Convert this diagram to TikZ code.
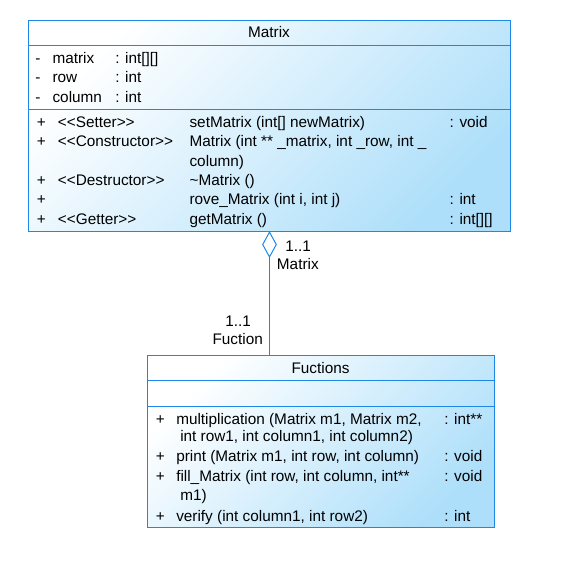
\documentclass[tikz,border=0pt]{standalone}
\usepackage{fontspec}
\setmainfont{Liberation Sans}
\usetikzlibrary{arrows.meta}
\definecolor{umlline}{HTML}{1E88E8}
\definecolor{umlfill}{HTML}{AEDFFA}
\tikzset{
  classbox/.style={draw=umlline, line width=0.75pt, top color=white, bottom color=umlfill, shading angle=45, inner sep=0pt, outer sep=0pt},
  txt/.style={anchor=base west, inner sep=0pt, font=\fontsize{11.5}{14}\selectfont},
  ttl/.style={anchor=base, inner sep=0pt, font=\fontsize{11.5}{14}\selectfont},
}
\begin{document}
\begin{tikzpicture}[x=0.75pt,y=-0.75pt]
  \useasboundingbox (0,0) rectangle (562,569);

  % class Matrix
  \node (matrix) [classbox, minimum width=361.8pt, minimum height=157.7pt] at (269.5,125.9) {};
  \draw[umlline, line width=0.75pt] (matrix.west |- 0,45) -- (matrix.east |- 0,45);
  \draw[umlline, line width=0.75pt] (matrix.west |- 0,109.3) -- (matrix.east |- 0,109.3);
  \node (mtitle) [ttl] at (269,37.7) {Matrix};

  \node (ma1) [txt] at (35,63) {-};
  \node (ma2) [txt] at (35,82.5) {-};
  \node (ma3) [txt] at (35,102) {-};
  \node (ma1n) [txt] at (52.3,63) {matrix};
  \node (ma2n) [txt] at (52.3,82.5) {row};
  \node (ma3n) [txt] at (52.3,102) {column};
  \node (ma1t) [txt] at (115,63) {: int[][]};
  \node (ma2t) [txt] at (115,82.5) {: int};
  \node (ma3t) [txt] at (115,102) {: int};

  \node (mo1) [txt] at (36.7,127) {+};
  \node (mo2) [txt] at (36.7,146.5) {+};
  \node (mo3) [txt] at (36.7,185) {+};
  \node (mo4) [txt] at (36.7,204.5) {+};
  \node (mo5) [txt] at (36.7,224) {+};
  \node (mo1s) [txt] at (57.7,127) {<{}<Setter>{}>};
  \node (mo2s) [txt] at (57.7,146.5) {<{}<Constructor>{}>};
  \node (mo3s) [txt] at (57.7,185) {<{}<Destructor>{}>};
  \node (mo5s) [txt] at (57.7,224) {<{}<Getter>{}>};
  \node (mo1n) [txt] at (189.3,127) {setMatrix (int[] newMatrix)};
  \node (mo2n) [txt] at (189.3,146.5) {Matrix (int ** \_matrix, int \_row, int \_};
  \node (mo2m) [txt] at (189.3,166) {column)};
  \node (mo3n) [txt] at (189.3,185) {\textasciitilde Matrix ()};
  \node (mo4n) [txt] at (189.3,204.5) {rove\_Matrix (int i, int j)};
  \node (mo5n) [txt] at (189.3,224) {getMatrix ()};
  \node (mo1t) [txt] at (449.3,127) {: void};
  \node (mo4t) [txt] at (449.3,204.5) {: int};
  \node (mo5t) [txt] at (449.3,224) {: int[][]};

  % class Fuctions
  \node (fuctions) [classbox, minimum width=260pt, minimum height=129.5pt] at (320.7,441.4) {};
  \draw[umlline, line width=0.75pt] (fuctions.west |- 0,380) -- (fuctions.east |- 0,380);
  \draw[umlline, line width=0.75pt] (fuctions.west |- 0,406.7) -- (fuctions.east |- 0,406.7);
  \node (ftitle) [ttl] at (320.5,373) {Fuctions};

  \node (fo1) [txt] at (155.7,424) {+};
  \node (fo2) [txt] at (155.7,461.7) {+};
  \node (fo3) [txt] at (155.7,481.7) {+};
  \node (fo4) [txt] at (155.7,521) {+};
  \node (fo1n) [txt] at (176,424) {multiplication (Matrix m1, Matrix m2,};
  \node (fo1m) [txt] at (180,441.7) {int row1, int column1, int column2)};
  \node (fo2n) [txt] at (176,461.7) {print (Matrix m1, int row, int column)};
  \node (fo3n) [txt] at (176,481.7) {fill\_Matrix (int row, int column, int**};
  \node (fo3m) [txt] at (180,500) {m1)};
  \node (fo4n) [txt] at (176,521) {verify (int column1, int row2)};
  \node (fo1t) [txt] at (444,424) {: int**};
  \node (fo2t) [txt] at (444,461.7) {: void};
  \node (fo3t) [txt] at (444,481.7) {: void};
  \node (fo4t) [txt] at (444,521) {: int};

  % aggregation
  \draw[umlline, line width=0.75pt, -{Diamond[open, length=20.25pt, width=11pt]}] (matrix.south |- fuctions.north) -- (matrix.south);
  \node (rm1) [txt] at (285,251) {1..1};
  \node (rm2) [txt] at (276.7,269) {Matrix};
  \node (rf1) [txt] at (225,326) {1..1};
  \node (rf2) [txt] at (212.3,344) {Fuction};
\end{tikzpicture}
\end{document}
